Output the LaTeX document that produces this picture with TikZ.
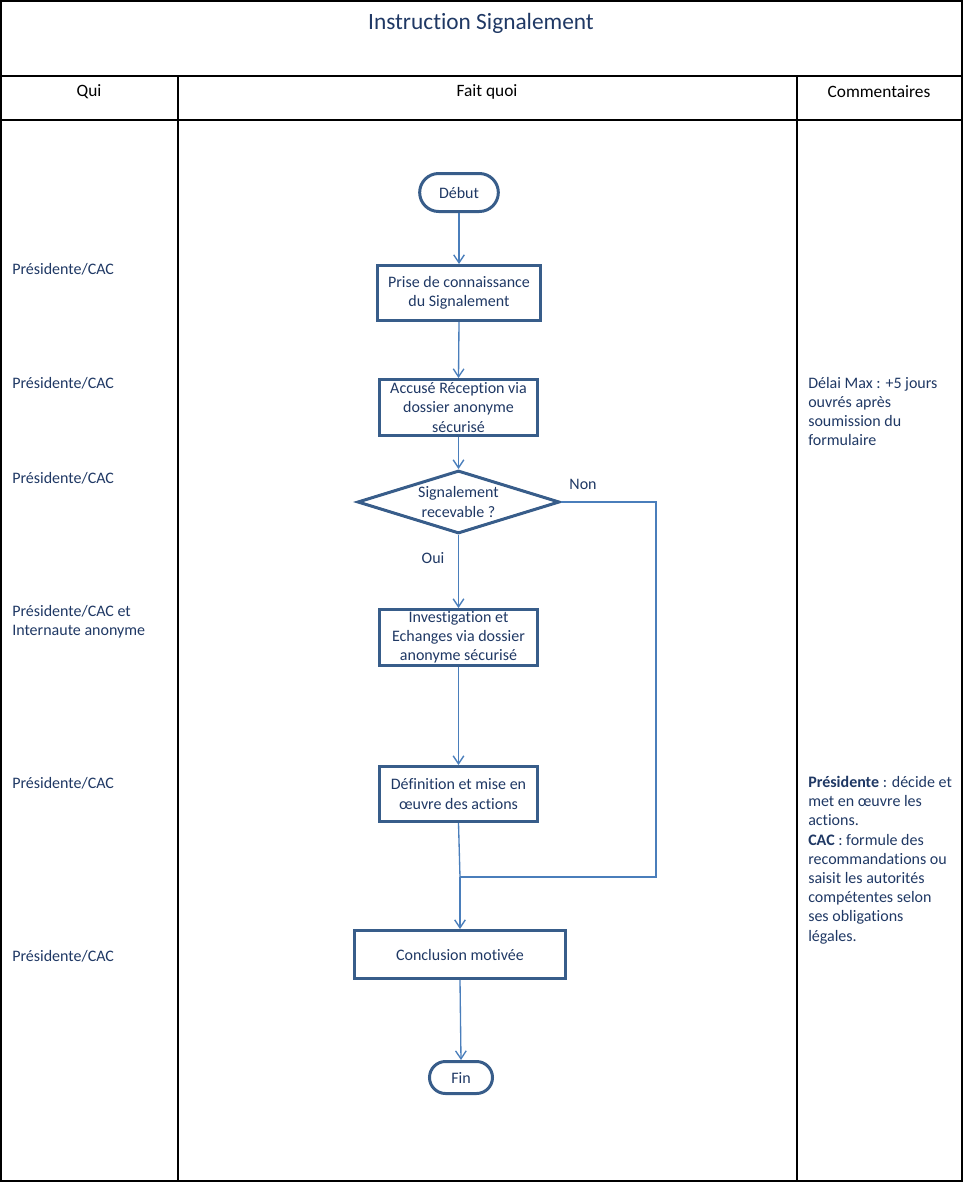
\documentclass[tikz,border=0pt]{standalone}
\usepackage{fontspec}
\setmainfont{Carlito}[Ligatures=NoCommon]
\usepackage{tikz}
\usetikzlibrary{arrows.meta}
\usetikzlibrary{shapes.geometric,shapes.misc}
\definecolor{navy}{RGB}{31,56,100}
\definecolor{boxline}{RGB}{56,93,138}
\definecolor{arrowline}{RGB}{74,126,187}

\begin{document}
\begin{tikzpicture}[x=0.75pt,y=-0.75pt,>={Straight Barb[length=6pt,width=8pt]},
        every node/.style={font=\fontsize{12}{14.4}\selectfont,text=navy},
        stepbox/.style={draw=boxline,line width=2.25pt,align=center,inner sep=0pt},
        startend/.style={rounded rectangle,draw=boxline,line width=2.25pt,inner sep=0pt},
        decision/.style={diamond,aspect=3,draw=boxline,line width=2.25pt,align=center,inner sep=0pt},
        lane/.style={anchor=west,align=left,inner sep=0pt},
        head/.style={text=black,font=\fontsize{13}{15}\selectfont},
        link/.style={draw=arrowline,line width=1pt}]
        \useasboundingbox(0,0)rectangle(963,1182);
        \draw[line width=1.1pt](1,1)rectangle(962,1181);
        \draw[line width=1.1pt](1,76)--(962,76) (1,120)--(962,120);
        \draw[line width=1.1pt](178,76)--(178,1181) (797,76)--(797,1181);
        \node (titre) at(481,23){\fontsize{17.5}{20}\selectfont Instruction Signalement};
        \node[head] (qui) at(89,92){Qui};
        \node[head] (quoi) at(487,92){Fait quoi};
        \node[head] (comm) at(879,92){Commentaires};
        \node[startend,minimum width=59pt,minimum height=28.5pt] (debut) at(459,192.5){Début};
        \node[stepbox,minimum width=122.25pt,minimum height=41.25pt] (prise) at(459,293){Prise de connaissance\\du Signalement};
        \node[stepbox,minimum width=118.5pt,minimum height=42pt] (accuse) at(458.5,407.5){Accusé Réception via\\dossier anonyme\\sécurisé};
        \node[decision,minimum width=151.5pt,minimum height=47.25pt] (recev) at(458.5,502){Signalement\\recevable ?};
        \node[stepbox,minimum width=118.5pt,minimum height=42pt] (invest) at(458.5,637.5){Investigation et\\Echanges via dossier\\anonyme sécurisé};
        \node[stepbox,minimum width=118.5pt,minimum height=41.25pt] (defin) at(458.5,794){Définition et mise en\\œuvre des actions};
        \node[stepbox,minimum width=158.25pt,minimum height=36pt] (concl) at(460,954.5){Conclusion motivée};
        \node[startend,minimum width=47.25pt,minimum height=24pt] (fin) at(461,1077.5){Fin};
        \node (non) at(583,484){Non};
        \node (oui) at(433,558){Oui};
        \coordinate (jonction) at(460,877);
        \coordinate (coinA) at(656,502);
        \coordinate (coinB) at(656,877);
        \draw[link,->](debut.south)--(prise.north);
        \draw[link,->](prise.south)--(accuse.north);
        \draw[link,->](accuse.south)--(recev.north);
        \draw[link,->](recev.south)--(invest.north);
        \draw[link,->](invest.south)--(defin.north);
        \draw[link](defin.south)--(jonction);
        \draw[link](recev.east)--(coinA)--(coinB)--(jonction);
        \draw[link,->](jonction)--(concl.north);
        \draw[link,->](concl.south)--(fin.north);
        \node[lane] (qui1) at(12,269){Présidente/CAC};
        \node[lane] (qui2) at(12,383){Présidente/CAC};
        \node[lane] (qui3) at(12,478){Présidente/CAC};
        \node[lane] (qui4) at(12,621.5){Présidente/CAC et\\Internaute anonyme};
        \node[lane] (qui5) at(12,783){Présidente/CAC};
        \node[lane] (qui6) at(12,956){Présidente/CAC};
        \node[lane] (comm1) at(808,411.5){Délai Max : +5 jours\\ouvrés après\\soumission du\\formulaire};
        \node[lane] (comm2) at(808,860){\textbf{Présidente} : décide et\\met en œuvre les\\actions.\\\textbf{CAC} : formule des\\recommandations ou\\saisit les autorités\\compétentes selon\\ses obligations\\légales.};
    \end{tikzpicture}
\end{document}
